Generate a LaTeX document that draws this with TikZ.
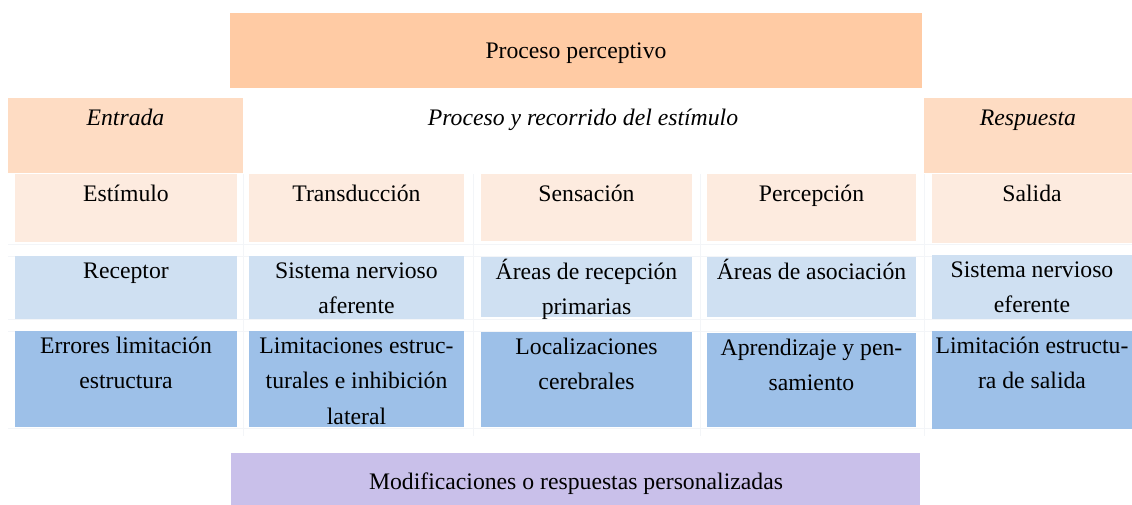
\documentclass[tikz,border=0pt]{standalone}
\usepackage{fontspec}
\setmainfont{Liberation Serif}
\definecolor{cTop}{HTML}{FFCBA4}
\definecolor{cHead}{HTML}{FEDCC3}
\definecolor{cRowA}{HTML}{FDEBDF}
\definecolor{cRowB}{HTML}{CFE0F2}
\definecolor{cRowC}{HTML}{9DC0E8}
\definecolor{cBot}{HTML}{C9C0EA}
\definecolor{cGrid}{HTML}{F3F5F8}
\tikzset{
  txt/.style={inner sep=0pt, align=center, anchor=north, font=\fontsize{23.7}{35.5}\selectfont},
  ctxt/.style={inner sep=0pt, align=center, font=\fontsize{23.7}{35.5}\selectfont},
  gridline/.style={draw=cGrid, line width=0.8pt}
}
\def\dyoff{0}
% \mkcell{name}{x1}{y1}{x2}{y2}{colour}{text}
\newcommand\mkcell[7]{%
  \fill[#6] (#2,#3) rectangle (#4,#5);
  \node[txt] (#1) at ({(#2+#4)/2},{#3-2.8+\dyoff}) {\strut #7};
}
\begin{document}
\begin{tikzpicture}[x=1pt,y=-1pt]
\useasboundingbox (0,0) rectangle (1132,505);
% faint table grid
\foreach \yy in {244,256,319,331,428}{\draw[gridline] (8,\yy) -- (1132,\yy);}
\foreach \xx in {243,473,700,924}{\draw[gridline] (\xx,174) -- (\xx,436);}
% top
\fill[cTop] (230,13) rectangle (922,88);
\node[ctxt] (title) at (576,53) {Proceso perceptivo};
% header row
\def\dyoff{5}
\mkcell{entrada}{8}{98}{243}{173}{cHead}{\itshape Entrada}
\node[txt] (proceso) at (583,{98-2.8+\dyoff}) {\strut\itshape Proceso y recorrido del estímulo};
\mkcell{respuesta}{924}{98}{1132}{173}{cHead}{\itshape Respuesta}
% row A
\mkcell{estimulo}{15}{174}{237}{242}{cRowA}{Estímulo}
\mkcell{transduccion}{249}{174}{464}{242}{cRowA}{Transducción}
\mkcell{sensacion}{481}{174}{692}{241}{cRowA}{Sensación}
\mkcell{percepcion}{707}{174}{916}{241}{cRowA}{Percepción}
\mkcell{salida}{932}{174}{1132}{243}{cRowA}{Salida}
% row B
\def\dyoff{0}
\mkcell{receptor}{15}{256}{237}{319}{cRowB}{Receptor}
\mkcell{afer}{249}{256}{464}{319}{cRowB}{Sistema nervioso\\aferente}
\mkcell{areasrec}{481}{257}{692}{317}{cRowB}{Áreas de recepción\\primarias}
\mkcell{areasaso}{707}{257}{916}{317}{cRowB}{Áreas de asociación}
\mkcell{efer}{932}{255}{1132}{319}{cRowB}{Sistema nervioso\\eferente}
% row C
\mkcell{errores}{15}{331}{237}{427}{cRowC}{Errores limitación\\estructura}
\mkcell{limit}{249}{331}{464}{427}{cRowC}{Limitaciones estruc-\\turales e inhibición\\lateral}
\mkcell{local}{481}{332}{692}{427}{cRowC}{Localizaciones\\cerebrales}
\mkcell{aprend}{707}{333}{916}{427}{cRowC}{Aprendizaje y pen-\\samiento}
\mkcell{limsal}{932}{331}{1132}{429}{cRowC}{Limitación estructu-\\ra de salida}
% bottom
\fill[cBot] (231,453) rectangle (920,505);
\node[ctxt] (modif) at (576,484) {Modificaciones o respuestas personalizadas};
\end{tikzpicture}
\end{document}
